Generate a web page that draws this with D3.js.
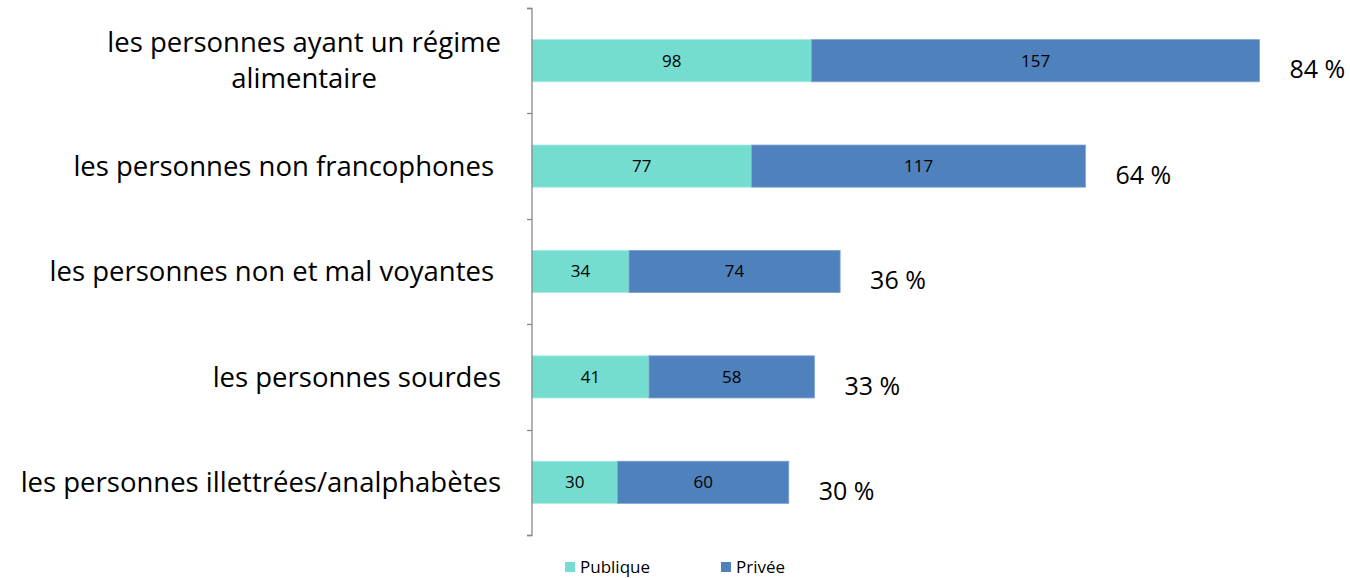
<!DOCTYPE html>
<html><head><meta charset="utf-8">
<script src="https://cdn.jsdelivr.net/npm/d3@7"></script>
<style>body{margin:0;background:#fff}svg{display:block}text{font-family:"Open Sans",sans-serif}</style>
</head><body>
<svg id="c" width="1350" height="578"></svg>
<script>
const categories = [
  ["les personnes ayant un régime", "alimentaire"],
  ["les personnes non francophones"],
  ["les personnes non et mal voyantes"],
  ["les personnes sourdes"],
  ["les personnes illettrées/analphabètes"]
];
const publique = [98, 77, 34, 41, 30];
const privee = [157, 117, 74, 58, 60];
const percents = ["84 %", "64 %", "36 %", "33 %", "30 %"];
const seriesNames = ["Publique", "Privée"];
const colors = ["#75DDD0", "#4F81BD"];

const svg = d3.select("#c");
const x0 = 532;
const x = d3.scaleLinear().domain([0, 280]).range([x0, x0 + 280 * 2.853]);
const y = d3.scaleBand().domain(d3.range(categories.length)).range([8, 535]).paddingInner(0.6).paddingOuter(0.3);
const yb = d3.scaleBand().domain(d3.range(categories.length)).range([8, 535]);

const rows = categories.map((c, i) => ({i, pub: publique[i], pri: privee[i]}));
const stack = d3.stack().keys(["pub", "pri"])(rows);

stack.forEach((s, si) => {
  const g = svg.append("g");
  g.selectAll("rect").data(s).enter().append("rect")
    .attr("x", d => x(d[0])).attr("width", d => x(d[1]) - x(d[0]))
    .attr("y", d => y(d.data.i)).attr("height", y.bandwidth())
    .attr("fill", colors[si])
    .attr("stroke", si === 0 ? "#a6ebe2" : "#7ea3d3").attr("stroke-width", 0.8);
  g.selectAll("text").data(s).enter().append("text")
    .attr("x", d => (x(d[0]) + x(d[1])) / 2).attr("y", d => y(d.data.i) + y.bandwidth() / 2)
    .attr("dy", "0.35em").attr("text-anchor", "middle").attr("font-size", 17).attr("fill", "#000")
    .text(d => d[1] - d[0]);
});

// percent labels
svg.append("g").selectAll("text").data(rows).enter().append("text")
  .attr("x", d => x(d.pub + d.pri) + 30).attr("y", d => y(d.i) + y.bandwidth() / 2 + 9)
  .attr("dy", "0.35em").attr("font-size", 25).attr("fill", "#000")
  .text((d, i) => percents[i]);

// axis
const axis = d3.axisLeft(yb).tickSize(5).tickFormat("");
const ag = svg.append("g").attr("transform", `translate(${x0},0)`).call(axis);
ag.selectAll(".tick").remove();
ag.select(".domain").attr("stroke", "#888").attr("stroke-width", 1.3).attr("d", "M-5,8.5H0V535.5H-5");
const seps = d3.range(categories.length + 1).map(i => i < categories.length ? yb(i) : 535);
ag.selectAll("line.sep").data(seps).enter().append("line").attr("class", "sep")
  .attr("x1", -5).attr("x2", 0).attr("y1", d => Math.round(d) + 0.5).attr("y2", d => Math.round(d) + 0.5)
  .attr("stroke", "#888").attr("stroke-width", 1.3);

// category labels
const lg = svg.append("g");
categories.forEach((lines, i) => {
  const cy = yb(i) + yb.bandwidth() / 2;
  const lh = 36;
  const t = lg.append("text").attr("font-size", 27.5).attr("fill", "#000");
  lines.forEach((ln, k) => {
    t.append("tspan").attr("x", 0).attr("y", cy + (k - (lines.length - 1) / 2) * lh).attr("dy", "0.35em").text(ln);
  });
  const widths = [];
  t.selectAll("tspan").each(function(){ widths.push(this.getComputedTextLength()); });
  const maxW = d3.max(widths);
  const right = lines.length > 1 ? 501 : (i === 1 || i === 2 ? 494 : 501);
  t.selectAll("tspan").attr("x", (d, k) => right - maxW + (maxW - widths[k]) / 2);
});

// legend
const leg = svg.append("g");
const legX = [565, 721];
seriesNames.forEach((n, i) => {
  leg.append("rect").attr("x", legX[i]).attr("y", 562).attr("width", 10).attr("height", 10).attr("fill", colors[i]);
  leg.append("text").attr("x", legX[i] + 15).attr("y", 567).attr("dy", "0.35em").attr("font-size", 17).attr("fill", "#000").text(n);
});
</script>
</body></html>
